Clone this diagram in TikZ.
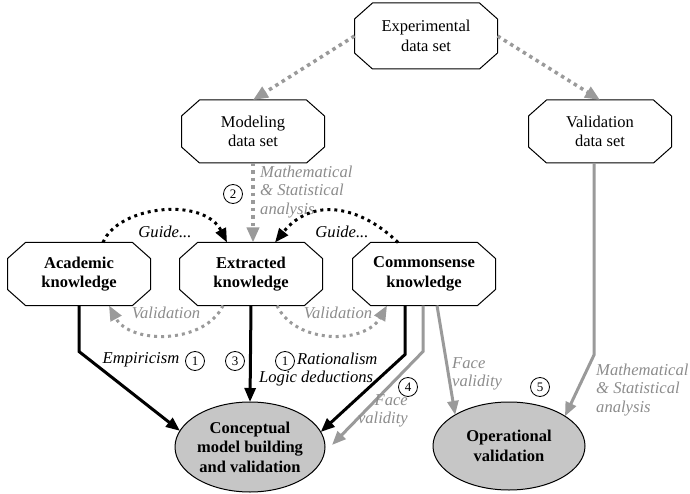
\documentclass[tikz,border=0pt]{standalone}
\usepackage{fontspec}
\setmainfont{Liberation Serif}
\usetikzlibrary{shapes.geometric,arrows.meta,calc}
\definecolor{lgray}{HTML}{9A9A9A}
\definecolor{tgray}{HTML}{8C8C8C}
\definecolor{efill}{HTML}{C6C6C6}
\newcommand{\fs}{\fontsize{16.5}{19.5}\selectfont}
\newcommand{\fsital}{\fontsize{16.6}{18.6}\selectfont}
\newcommand{\octpath}[1]{%
  \draw[octline] ($(#1.north west)+(18,0)$) -- ($(#1.north east)+(-18,0)$)
    -- ($(#1.north east)+(0,16)$) -- ($(#1.south east)+(0,-16)$)
    -- ($(#1.south east)+(-18,0)$) -- ($(#1.south west)+(18,0)$)
    -- ($(#1.south west)+(0,-16)$) -- ($(#1.north west)+(0,16)$) -- cycle;}
\begin{document}
\begin{tikzpicture}[x=1pt,y=-1pt,
  octbox/.style={rectangle, minimum width=143pt, minimum height=63pt, inner sep=0pt, outer sep=0pt, align=center, font=\fs},
  boldoct/.style={octbox, font=\fs\bfseries},
  octline/.style={draw=black, line width=1pt},
  ell/.style={ellipse, draw=black, line width=1pt, fill=efill, minimum width=150pt, minimum height=90pt, inner sep=0pt, outer sep=0pt, align=center, font=\fs\bfseries},
  blk/.style={line width=3pt, draw=black, -{Triangle[length=14pt,width=11pt]}},
  gry/.style={line width=3pt, draw=lgray, -{Triangle[length=14pt,width=11pt]}},
  gdot/.style={line width=3.5pt, draw=lgray, dash pattern=on 3.5pt off 4pt, -{Triangle[length=15pt,width=12pt]}},
  gdotthin/.style={gdot, line width=3pt, dash pattern=on 3pt off 4pt},
  bdot/.style={line width=3pt, draw=black, dash pattern=on 3pt off 4pt, -{Triangle[length=14pt,width=11pt]}},
  lbl/.style={font=\fsital\itshape, inner sep=0pt},
  glbl/.style={lbl, text=tgray},
  num/.style={circle, draw, line width=0.8pt, minimum size=19pt, inner sep=0pt, font=\fontsize{13}{13}\selectfont},
]
\useasboundingbox (0,0) rectangle (690,494);

\node[octbox, minimum height=66pt] (exp) at (426,36) {Experimental\\data set};
\octpath{exp}
\node[octbox] (mod) at (253,131.5) {Modeling\\data set};
\octpath{mod}
\node[octbox] (val) at (600,131.5) {Validation\\data set};
\octpath{val}
\node[boldoct] (acad) at (79,274) {Academic\\knowledge};
\octpath{acad}
\node[boldoct] (ext) at (251,274) {Extracted\\knowledge};
\octpath{ext}
\node[boldoct] (com) at (424,274) {Commonsense\\knowledge};
\octpath{com}
\node[ell] (conc) at (250,447) {Conceptual\\model building\\and validation};
\node[ell, minimum width=152pt, minimum height=88pt] (oper) at (509,446) {Operational\\validation};

% data set arrows
\draw[gdot] (exp.west) -- (mod.north);
\draw[gdot] (exp.east) -- (val.north);
\draw[gdot] (mod.south) -- (mod.south |- ext.north);
\node[glbl, align=left, anchor=west] (mlab) at (260,192) {Mathematical\\\& Statistical\\analysis};
\node[num] (n2) at (233,194) {2};

% guide arcs
\draw[bdot] ($(acad.north)+(24,0)$) .. controls ($(acad.north)+(39,-37)$) and ($(ext.north)+(-47,-46)$) .. ($(ext.north)+(-24,0)$);
\draw[bdot] ($(com.north)+(-26,0)$) .. controls ($(com.north)+(-64,-37)$) and ($(ext.north)+(61,-46)$) .. ($(ext.north)+(24,0)$);
\node[lbl] (g1) at (165,232) {Guide...};
\node[lbl] (g2) at (342,232) {Guide...};

% validation arcs
\draw[gdotthin] ($(ext.south)+(-28,0)$) .. controls ($(ext.south)+(-46,39)$) and ($(acad.south)+(51,39)$) .. ($(acad.south)+(30,0)$);
\draw[gdotthin] ($(ext.south)+(26,0)$) .. controls ($(ext.south)+(44,39)$) and ($(com.south)+(-59,39)$) .. ($(com.south)+(-37,0)$);
\node[glbl] (v1) at (166,313) {Validation};
\node[glbl] (v2) at (338,313) {Validation};

% knowledge to conceptual / operational
\draw[blk] (acad.south) -- ($(acad.south)+(0,46)$) -- (conc.167);
\draw[blk] (ext.south) -- (conc.north);
\draw[blk] ($(com.south)+(-19,0)$) -- ($(com.south)+(-19,49)$) -- (conc.12);
\draw[gry] ($(com.south)+(-1,0)$) -- ($(com.south)+(-1,46)$) -- ($(conc.east)+(7,-2)$);
\draw[gry] ($(com.south)+(13,0)$) -- (oper.150);
\draw[gry] ($(val.south)+(-6,0)$) -- ($(val.south)+(-6,192)$) -- (oper.28);

\node[lbl] (emp) at (141,360) {Empiricism};
\node[num] (n1a) at (195,361) {1};
\node[num] (n3) at (235,361) {3};
\node[num] (n1b) at (285,361) {1};
\node[lbl, anchor=west] (rat) at (297,359) {Rationalism};
\node[lbl, anchor=west] (logic) at (259,379) {Logic deductions};
\node[num] (n4) at (408,387) {4};
\node[glbl, align=right, anchor=east] (fv1) at (408,411) {Face\\validity};
\node[glbl, align=left, anchor=west] (fv2) at (452,374) {Face\\validity};
\node[num] (n5) at (540,387) {5};
\node[glbl, align=left, anchor=west] (mlab2) at (596,390) {Mathematical\\\& Statistical\\analysis};
\end{tikzpicture}
\end{document}
